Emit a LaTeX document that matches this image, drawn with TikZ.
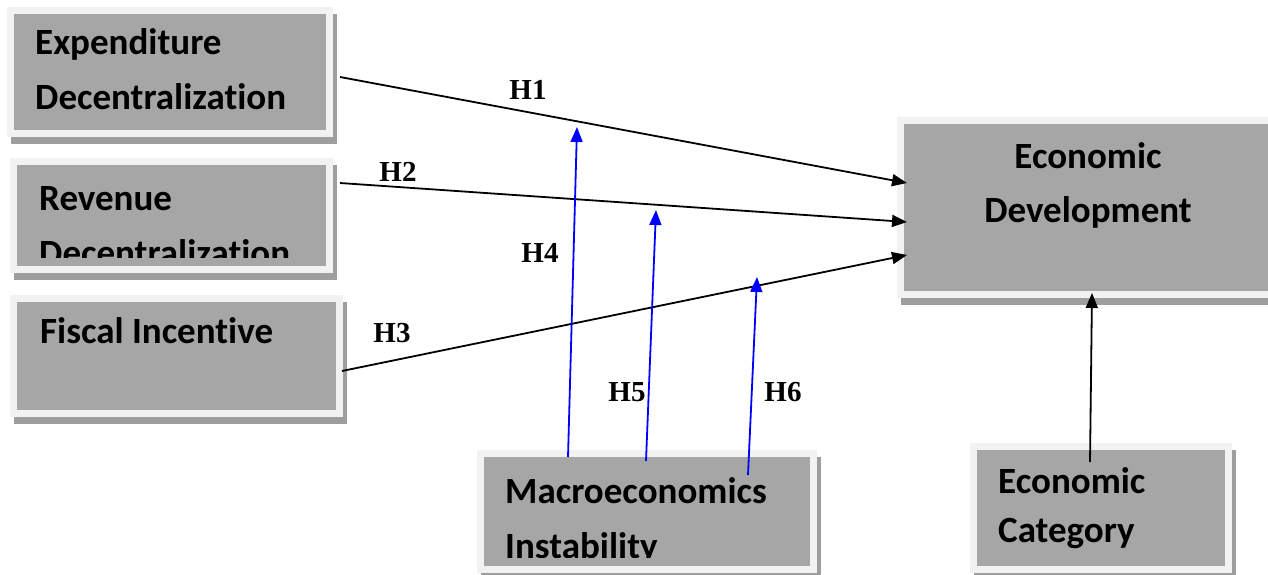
\documentclass[tikz,border=0pt]{standalone}
\usepackage{fontspec}
\setmainfont{Liberation Serif}
\newfontfamily\boxfont[Ligatures=NoCommon]{Carlito}
\usetikzlibrary{arrows.meta,calc,shadows}
\definecolor{boxgray}{HTML}{A6A6A6}
\definecolor{framegray}{HTML}{F2F2F2}
\definecolor{shadegray}{HTML}{9E9E9E}
\tikzset{
  varbox/.style={draw=framegray, fill=boxgray, line width=7pt, outer sep=0pt, inner sep=0pt,
    drop shadow={draw=shadegray, fill=shadegray, line width=7pt, opacity=1,
      shadow xshift=4pt, shadow yshift=-7pt}},
  boxtext/.style={font=\boxfont\bfseries\fontsize{37}{42}\selectfont, inner sep=0pt, anchor=base west},
  hyp/.style={font=\bfseries\fontsize{29}{34}\selectfont, inner sep=0pt},
  link/.style={line width=1.8pt, -{Triangle[length=15pt,width=12pt]}},
  modlink/.style={link, blue},
}
\begin{document}
\begin{tikzpicture}[x=1pt,y=-1pt]
\useasboundingbox (0,0) rectangle (1268,575);
\clip (0,0) rectangle (1268,575);

% variable boxes
\node[varbox, minimum width=319pt, minimum height=123pt] (exp) at (170,72) {};
\node[varbox, minimum width=316pt, minimum height=108pt] (rev) at (171.5,215.5) {};
\node[varbox, minimum width=326pt, minimum height=115pt] (fis) at (176.5,356) {};
\node[varbox, minimum width=333pt, minimum height=116pt] (mac) at (647,511.5) {};
\node[varbox, minimum width=371pt, minimum height=174pt] (ed) at (1086,207.5) {};
\node[varbox, minimum width=255pt, minimum height=123pt] (cat) at (1101,508) {};

% box texts
\node[boxtext] (exp-a) at (35,55) {Expenditure};
\node[boxtext] (exp-b) at (35,110) {Decentralization};
\node[boxtext] (rev-a) at (39,210) {Revenue};
\begin{scope}
  \clip (17,165) rectangle (326,257);
  \node[boxtext] (rev-b) at (39,265) {Decentralization};
\end{scope}
\node[boxtext] (fis-a) at (40,343) {Fiscal Incentive};
\node[boxtext] (mac-a) at (505,503) {Macroeconomics};
\begin{scope}
  \clip (484,458) rectangle (810,557);
  \node[boxtext] (mac-b) at (505,558) {Instability};
\end{scope}
\node[boxtext, anchor=base] (ed-a) at (1088,168) {Economic};
\node[boxtext, anchor=base] (ed-b) at (1088,222) {Development};
\node[boxtext] (cat-a) at (998,493) {Economic};
\node[boxtext] (cat-b) at (998,542) {Category};

% hypotheses
\node[hyp] (h1) at (528,90) {H1};
\node[hyp] (h2) at (398,172) {H2};
\node[hyp] (h3) at (392,333) {H3};
\node[hyp] (h4) at (540,253) {H4};
\node[hyp] (h5) at (627,392) {H5};
\node[hyp] (h6) at (783,392) {H6};

% direct effects
\draw[link] ($(exp.east)+(10.5,5)$) -- ($(ed.west)+(6.5,-24.5)$);
\draw[link] ($(rev.east)+(10.5,-32.5)$) -- ($(ed.west)+(6.5,14.5)$);
\draw[link] ($(fis.east)+(2.5,15)$) -- ($(ed.west)+(6.5,47.5)$);
\draw[link] ($(cat.north)+(-11,15.5)$) -- ($(ed.south)+(6,-1.5)$);

% moderating effects
\coordinate (h4end) at (577,127);
\coordinate (h5end) at (656,210);
\coordinate (h6end) at (757,277);
\draw[modlink] ($(mac.north)+(-79,3.5)$) -- (h4end);
\draw[modlink] ($(mac.north)+(-1,7.5)$) -- (h5end);
\draw[modlink] ($(mac.north)+(101,21.5)$) -- (h6end);
\end{tikzpicture}
\end{document}
